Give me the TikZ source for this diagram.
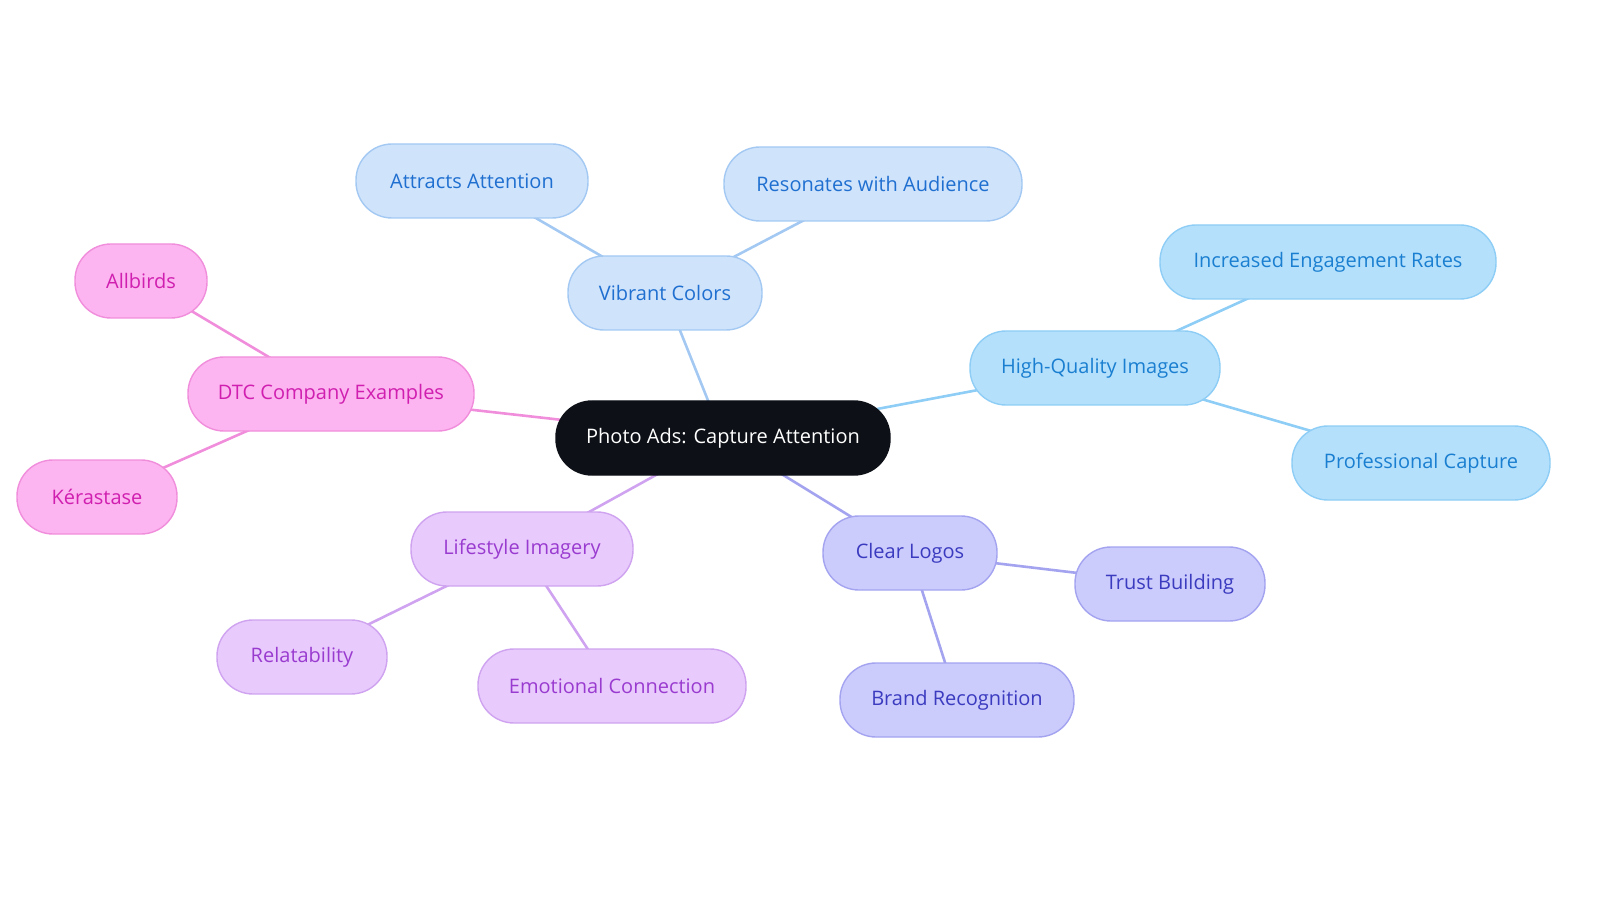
\documentclass[tikz,border=0pt]{standalone}
\usepackage{fontspec}
\setmainfont{Open Sans}
\usepackage{xcolor}
\usetikzlibrary{positioning,backgrounds}
\definecolor{rootfill}{HTML}{0D1117}
\definecolor{vcfill}{HTML}{CFE3FB}\definecolor{vcline}{HTML}{A3C9F3}\definecolor{vctext}{HTML}{1F6FD0}
\definecolor{hqfill}{HTML}{B5E0FC}\definecolor{hqline}{HTML}{8ECDF5}\definecolor{hqtext}{HTML}{1A7FD0}
\definecolor{clfill}{HTML}{CBCBFC}\definecolor{clline}{HTML}{A3A3F0}\definecolor{cltext}{HTML}{3B3BC0}
\definecolor{lifill}{HTML}{E8CBFC}\definecolor{liline}{HTML}{CFA3F0}\definecolor{litext}{HTML}{9A3BD0}
\definecolor{dtfill}{HTML}{FCB5F0}\definecolor{dtline}{HTML}{F08EDC}\definecolor{dttext}{HTML}{D01FB0}

\begin{document}
\begin{tikzpicture}[x=0.5pt, y=-0.5pt,
        every node/.style={rounded corners=18pt, minimum height=37pt, inner sep=0pt, font=\fontsize{10}{12}\selectfont, line width=0.7pt},
        root/.style={fill=rootfill, draw=rootfill, text=white},
        vc/.style={fill=vcfill, draw=vcline, text=vctext}, vcedge/.style={vcline, line width=1.3pt},
        hq/.style={fill=hqfill, draw=hqline, text=hqtext}, hqedge/.style={hqline, line width=1.3pt},
        cl/.style={fill=clfill, draw=clline, text=cltext}, cledge/.style={clline, line width=1.3pt},
        li/.style={fill=lifill, draw=liline, text=litext}, liedge/.style={liline, line width=1.3pt},
        dt/.style={fill=dtfill, draw=dtline, text=dttext}, dtedge/.style={dtline, line width=1.3pt}]
        \useasboundingbox (0,0) rectangle (1600,903);
        % branches
        \node[root, minimum width=167pt] (photo) at (723,438) {Photo Ads: Capture Attention};
        \node[vc, minimum width=97pt] (vibrant) at (665,293) {Vibrant Colors};
        \node[vc, minimum width=116pt] (attracts) at (472,181) {Attracts Attention};
        \node[vc, minimum width=149pt] (resonates) at (873,184) {Resonates with Audience};
        \node[hq, minimum width=125pt] (quality) at (1095,368) {High-Quality Images};
        \node[hq, minimum width=168pt] (engage) at (1328,262) {Increased Engagement Rates};
        \node[hq, minimum width=129pt] (capture) at (1421,463) {Professional Capture};
        \node[cl, minimum width=87pt] (logos) at (910,553) {Clear Logos};
        \node[cl, minimum width=95pt] (trust) at (1170,584) {Trust Building};
        \node[cl, minimum width=117pt] (brand) at (957,700) {Brand Recognition};
        \node[li, minimum width=111pt] (lifestyle) at (522,549) {Lifestyle Imagery};
        \node[li, minimum width=85pt] (relate) at (302,657) {Relatability};
        \node[li, minimum width=134pt] (emotion) at (612,686) {Emotional Connection};
        \node[dt, minimum width=143pt] (dtc) at (331,394) {DTC Company Examples};
        \node[dt, minimum width=66pt] (allbirds) at (141,281) {Allbirds};
        \node[dt, minimum width=80pt] (kerastase) at (97,497) {Kérastase};
        % connectors
        \begin{scope}[on background layer]
        \draw[vcedge] (photo.center) -- (vibrant.center);
        \draw[vcedge] (vibrant.center) -- (attracts.center);
        \draw[vcedge] (vibrant.center) -- (resonates.center);
        \draw[hqedge] (photo.center) -- (quality.center);
        \draw[hqedge] (quality.center) -- (engage.center);
        \draw[hqedge] (quality.center) -- (capture.center);
        \draw[cledge] (photo.center) -- (logos.center);
        \draw[cledge] (logos.center) -- (trust.center);
        \draw[cledge] (logos.center) -- (brand.center);
        \draw[liedge] (photo.center) -- (lifestyle.center);
        \draw[liedge] (lifestyle.center) -- (relate.center);
        \draw[liedge] (lifestyle.center) -- (emotion.center);
        \draw[dtedge] (photo.center) -- (dtc.center);
        \draw[dtedge] (dtc.center) -- (allbirds.center);
        \draw[dtedge] (dtc.center) -- (kerastase.center);
        \end{scope}
    \end{tikzpicture}
\end{document}
